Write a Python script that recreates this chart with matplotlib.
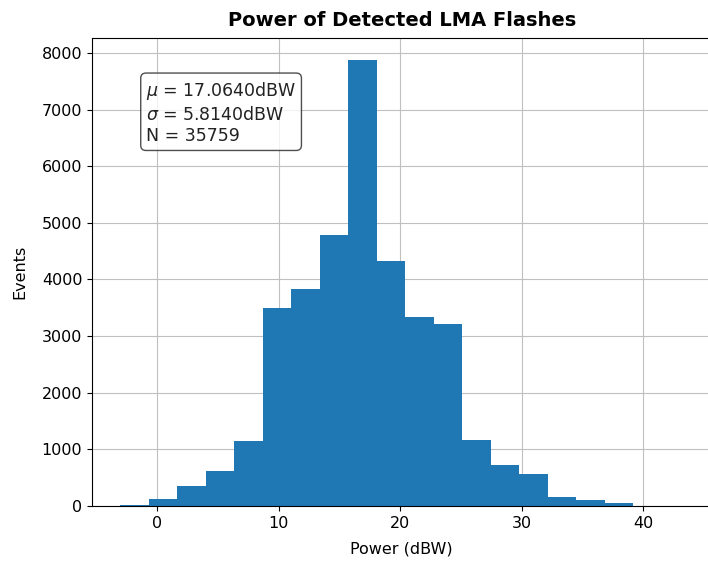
import numpy as np
import matplotlib
matplotlib.use("Agg")
import matplotlib.pyplot as plt

# bin edges of the histogram (dBW) and counts per bin
edge_lo = -3.07
edge_hi = 39.16
n_bins = 18
counts = [25, 118, 358, 612, 1141, 3499, 3835, 4777, 7867,
          4323, 3341, 3212, 1164, 718, 570, 164, 100, 45]

mu = 17.0640
sigma = 5.8140
n_events = 35759

edges = np.linspace(edge_lo, edge_hi, n_bins + 1)
centers = 0.5 * (edges[:-1] + edges[1:])

plt.rcParams['font.size'] = 11.5

fig = plt.figure(figsize=(7.08, 5.61), dpi=100)
ax = fig.add_axes([0.130, 0.098, 0.875, 0.834])

ax.hist(centers, bins=edges, weights=counts, color='#1f77b4', zorder=2)
ax.grid(True, zorder=0, color='#c0c0c0')
ax.set_axisbelow(True)
ax.set_xlim(-5.38, 45.6)

ax.set_title("Power of Detected LMA Flashes", fontweight='bold', fontsize=14, pad=9)
ax.set_xlabel("Power (dBW)", labelpad=8)
ax.set_ylabel("Events", labelpad=10)

txt = "\n".join([
    r"$\mu$ = %.4fdBW" % mu,
    r"$\sigma$ = %.4fdBW" % sigma,
    "N = %d" % n_events,
])
ax.text(0.087, 0.91, txt, transform=ax.transAxes, va='top', ha='left', fontsize=12.5,
        color='#222222', linespacing=1.25,
        bbox=dict(boxstyle='round', facecolor='white', alpha=0.8, edgecolor='#222222'), zorder=5)

fig.savefig("out.png", dpi=100)
